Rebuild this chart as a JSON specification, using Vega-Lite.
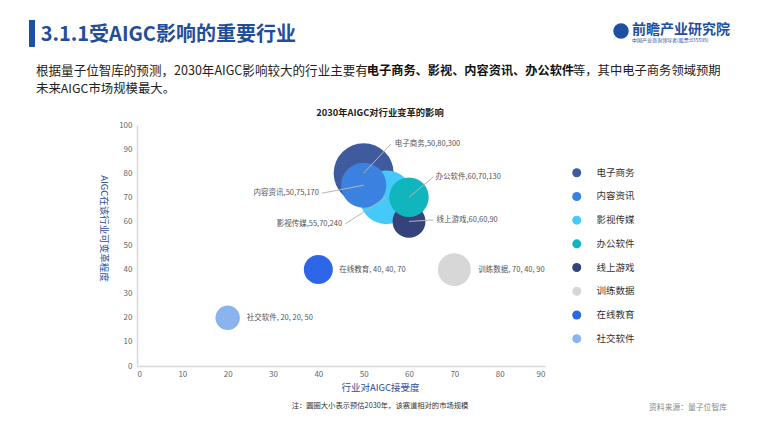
{
  "$schema": "https://vega.github.io/schema/vega-lite/v6.json",
  "width": 408,
  "height": 241,
  "autosize": {"type": "none"},
  "padding": {"left": 137, "top": 125, "right": 215, "bottom": 61},
  "background": "white",
  "config": {"view": {"stroke": null}, "font": "Noto Sans CJK SC", "axis": {"grid": false, "labelOverlap": false}},
  "resolve": {"axis": {"x": "independent", "y": "independent"}},
  "data": {"values": [
    {"industry": "电子商务", "x": 50, "y": 80, "size": 300, "label": "电子商务,50,80,300"},
    {"industry": "影视传媒", "x": 55, "y": 70, "size": 240, "label": "影视传媒,55,70,240"},
    {"industry": "内容资讯", "x": 50, "y": 75, "size": 170, "label": "内容资讯,50,75,170"},
    {"industry": "线上游戏", "x": 60, "y": 60, "size": 90, "label": "线上游戏,60,60,90"},
    {"industry": "办公软件", "x": 60, "y": 70, "size": 130, "label": "办公软件,60,70,130"},
    {"industry": "训练数据", "x": 70, "y": 40, "size": 90, "label": "训练数据, 70, 40, 90"},
    {"industry": "在线教育", "x": 40, "y": 40, "size": 70, "label": "在线教育, 40, 40, 70"},
    {"industry": "社交软件", "x": 20, "y": 20, "size": 50, "label": "社交软件, 20, 20, 50"}
  ]},
  "layer": [
    {
      "mark": {"type": "point", "filled": true, "opacity": 1, "shape": "circle", "strokeWidth": 0},
      "encoding": {
        "x": {"field": "x", "type": "quantitative", "scale": {"domain": [0, 90], "nice": false},
          "axis": {"title": "行业对AIGC接受度", "values": [0,10,20,30,40,50,60,70,80,90], "ticks": false, "domainColor": "#d9d9d9", "domainWidth": 1.5,
            "labelOverlap": false, "labelColor": "#666", "labelFontSize": 8, "labelPadding": 4, "titleColor": "#2b4a9c", "titleFontSize": 9.5, "titleFontWeight": "normal",
            "titleX": 243, "titleY": 21, "titleBaseline": "middle", "titleAlign": "center"}},
        "y": {"field": "y", "type": "quantitative", "scale": {"domain": [0, 100], "nice": false},
          "axis": {"title": "AIGC在该行业可变革程度", "values": [0,10,20,30,40,50,60,70,80,90,100], "ticks": false, "domainColor": "#d9d9d9", "domainWidth": 1.5,
            "labelOverlap": false, "labelColor": "#666", "labelFontSize": 8, "labelPadding": 5, "titleColor": "#2b4a9c", "titleFontSize": 9.5, "titleFontWeight": "normal",
            "titleAngle": 90, "titleX": -34, "titleY": 103, "titleBaseline": "middle", "titleAlign": "center"}},
        "size": {"field": "size", "type": "quantitative", "scale": {"domain": [0, 300], "range": [0, 3600]}, "legend": null},
        "color": {"field": "industry", "type": "nominal",
          "scale": {"domain": ["电子商务","内容资讯","影视传媒","办公软件","线上游戏","训练数据","在线教育","社交软件"],
                    "range": ["#3f5b9e","#3b82e0","#45c8fa","#10b5be","#34437a","#d7d7d7","#2d66e8","#8ab4ee"]},
          "legend": {"orient": "none", "legendX": 435, "legendY": 43, "title": null, "symbolType": "circle", "symbolSize": 81,
            "labelFontSize": 9.5, "labelColor": "#333", "labelOffset": 15, "rowPadding": 12.7, "padding": 0, "symbolStrokeWidth": 0}}
      }
    },
    {
      "transform": [{"filter": "datum.industry === '电子商务'"}],
      "layer": [
        {"mark": {"type": "rule", "color": "#b5b5b5", "strokeWidth": 1},
         "encoding": {"x": {"field": "x", "type": "quantitative", "axis": null}, "y": {"field": "y", "type": "quantitative", "axis": null}, "x2": {"datum": 56.0}, "y2": {"datum": 92.1}}},
        {"mark": {"type": "text", "align": "left", "baseline": "middle", "dx": 4, "fontSize": 7.5, "color": "#555"},
         "encoding": {"x": {"datum": 56.0, "axis": null}, "y": {"datum": 92.1, "axis": null}, "text": {"field": "label"}}}
      ]
    },
    {
      "transform": [{"filter": "datum.industry === '内容资讯'"}],
      "layer": [
        {"mark": {"type": "rule", "color": "#b5b5b5", "strokeWidth": 1},
         "encoding": {"x": {"field": "x", "type": "quantitative", "axis": null}, "y": {"field": "y", "type": "quantitative", "axis": null}, "x2": {"datum": 40.8}, "y2": {"datum": 71.7}}},
        {"mark": {"type": "text", "align": "right", "baseline": "middle", "dx": -3, "fontSize": 7.5, "color": "#555"},
         "encoding": {"x": {"datum": 40.8, "axis": null}, "y": {"datum": 71.7, "axis": null}, "text": {"field": "label"}}}
      ]
    },
    {
      "transform": [{"filter": "datum.industry === '影视传媒'"}],
      "layer": [
        {"mark": {"type": "rule", "color": "#b5b5b5", "strokeWidth": 1},
         "encoding": {"x": {"field": "x", "type": "quantitative", "axis": null}, "y": {"field": "y", "type": "quantitative", "axis": null}, "x2": {"datum": 45.9}, "y2": {"datum": 58.9}}},
        {"mark": {"type": "text", "align": "right", "baseline": "middle", "dx": -3, "fontSize": 7.5, "color": "#555"},
         "encoding": {"x": {"datum": 45.9, "axis": null}, "y": {"datum": 58.9, "axis": null}, "text": {"field": "label"}}}
      ]
    },
    {
      "transform": [{"filter": "datum.industry === '办公软件'"}],
      "layer": [
        {"mark": {"type": "rule", "color": "#b5b5b5", "strokeWidth": 1},
         "encoding": {"x": {"field": "x", "type": "quantitative", "axis": null}, "y": {"field": "y", "type": "quantitative", "axis": null}, "x2": {"datum": 65.4}, "y2": {"datum": 78.5}}},
        {"mark": {"type": "text", "align": "left", "baseline": "middle", "dx": 2, "fontSize": 7.5, "color": "#555"},
         "encoding": {"x": {"datum": 65.4, "axis": null}, "y": {"datum": 78.5, "axis": null}, "text": {"field": "label"}}}
      ]
    },
    {
      "transform": [{"filter": "datum.industry === '线上游戏'"}],
      "layer": [
        {"mark": {"type": "rule", "color": "#b5b5b5", "strokeWidth": 1},
         "encoding": {"x": {"field": "x", "type": "quantitative", "axis": null}, "y": {"field": "y", "type": "quantitative", "axis": null}, "x2": {"datum": 65.4}, "y2": {"datum": 60.6}}},
        {"mark": {"type": "text", "align": "left", "baseline": "middle", "dx": 3, "fontSize": 7.5, "color": "#555"},
         "encoding": {"x": {"datum": 65.4, "axis": null}, "y": {"datum": 60.6, "axis": null}, "text": {"field": "label"}}}
      ]
    },
    {
      "transform": [{"filter": "datum.industry === '在线教育'"}],
      "mark": {"type": "text", "align": "left", "baseline": "middle", "dx": 21, "fontSize": 7.5, "color": "#555"},
      "encoding": {"x": {"field": "x", "type": "quantitative", "axis": null}, "y": {"field": "y", "type": "quantitative", "axis": null}, "text": {"field": "label"}}
    },
    {
      "transform": [{"filter": "datum.industry === '训练数据'"}],
      "mark": {"type": "text", "align": "left", "baseline": "middle", "dx": 24, "fontSize": 7.5, "color": "#555"},
      "encoding": {"x": {"field": "x", "type": "quantitative", "axis": null}, "y": {"field": "y", "type": "quantitative", "axis": null}, "text": {"field": "label"}}
    },
    {
      "transform": [{"filter": "datum.industry === '社交软件'"}],
      "mark": {"type": "text", "align": "left", "baseline": "middle", "dx": 19, "fontSize": 7.5, "color": "#555"},
      "encoding": {"x": {"field": "x", "type": "quantitative", "axis": null}, "y": {"field": "y", "type": "quantitative", "axis": null}, "text": {"field": "label"}}
    },
    {
      "data": {"values": [{"t": "2030年AIGC对行业变革的影响"}]},
      "mark": {"type": "text", "align": "center", "baseline": "middle", "fontSize": 9.3, "fontWeight": "bold", "color": "#222"},
      "encoding": {"x": {"datum": 53.6, "axis": null}, "y": {"datum": 105, "axis": null}, "text": {"field": "t"}}
    },
    {
      "data": {"values": [{"t": "注：圆圈大小表示预估2030年，该赛道相对的市场规模"}]},
      "mark": {"type": "text", "align": "center", "baseline": "middle", "fontSize": 7.3, "color": "#333"},
      "encoding": {"x": {"datum": 53.6, "axis": null}, "y": {"datum": -16.5, "axis": null}, "text": {"field": "t"}}
    },
    {
      "data": {"values": [{"t": "资料来源：量子位智库"}]},
      "mark": {"type": "text", "align": "right", "baseline": "middle", "fontSize": 7.8, "color": "#888"},
      "encoding": {"x": {"datum": 130.15, "axis": null}, "y": {"datum": -17.4, "axis": null}, "text": {"field": "t"}}
    },
    {
      "data": {"values": [{"t": "bar"}]},
      "mark": {"type": "rect", "color": "#1e50a2"},
      "encoding": {"x": {"datum": -23.82, "axis": null}, "x2": {"datum": -22.5}, "y": {"datum": 143.57, "axis": null}, "y2": {"datum": 132.37}}
    },
    {
      "data": {"values": [{"t": "3.1.1受AIGC影响的重要行业"}]},
      "mark": {"type": "text", "align": "left", "baseline": "middle", "fontSize": 20, "fontWeight": "bold", "color": "#1f4e9b"},
      "encoding": {"x": {"datum": -21.24, "axis": null}, "y": {"datum": 137.55, "axis": null}, "text": {"field": "t"}}
    },
    {
      "data": {"values": [{"t": "根据量子位智库的预测，2030年AIGC影响较大的行业主要有"}]},
      "mark": {"type": "text", "align": "left", "baseline": "middle", "fontSize": 12.55, "color": "#222"},
      "encoding": {"x": {"datum": -22.28, "axis": null}, "y": {"datum": 122.3, "axis": null}, "text": {"field": "t"}}
    },
    {
      "data": {"values": [{"t": "电子商务、影视、内容资讯、办公软件"}]},
      "mark": {"type": "text", "align": "left", "baseline": "middle", "fontSize": 12.2, "fontWeight": "bold", "color": "#111"},
      "encoding": {"x": {"datum": 50.7, "axis": null}, "y": {"datum": 122.3, "axis": null}, "text": {"field": "t"}}
    },
    {
      "data": {"values": [{"t": "等，其中电子商务领域预期"}]},
      "mark": {"type": "text", "align": "left", "baseline": "middle", "fontSize": 12.3, "color": "#222"},
      "encoding": {"x": {"datum": 96.18, "axis": null}, "y": {"datum": 122.3, "axis": null}, "text": {"field": "t"}}
    },
    {
      "data": {"values": [{"t": "未来AIGC市场规模最大。"}]},
      "mark": {"type": "text", "align": "left", "baseline": "middle", "fontSize": 12.4, "color": "#222"},
      "encoding": {"x": {"datum": -22.28, "axis": null}, "y": {"datum": 115.0, "axis": null}, "text": {"field": "t"}}
    },
    {
      "data": {"values": [{"t": "logo"}]},
      "mark": {"type": "point", "filled": true, "opacity": 1, "shape": "circle", "color": "#1f4fa0", "size": 240},
      "encoding": {"x": {"datum": 106.77, "axis": null}, "y": {"datum": 139.0, "axis": null}}
    },
    {
      "data": {"values": [{"t": "前瞻产业研究院"}]},
      "mark": {"type": "text", "align": "left", "baseline": "middle", "fontSize": 14, "fontWeight": "bold", "color": "#1f4fa0"},
      "encoding": {"x": {"datum": 109.19, "axis": null}, "y": {"datum": 139.6, "axis": null}, "text": {"field": "t"}}
    },
    {
      "data": {"values": [{"t": "中国产业咨询领导者(股票:835599)"}]},
      "mark": {"type": "text", "align": "left", "baseline": "middle", "fontSize": 5, "color": "#1f4fa0"},
      "encoding": {"x": {"datum": 109.19, "axis": null}, "y": {"datum": 135.1, "axis": null}, "text": {"field": "t"}}
    }
  ]
}
